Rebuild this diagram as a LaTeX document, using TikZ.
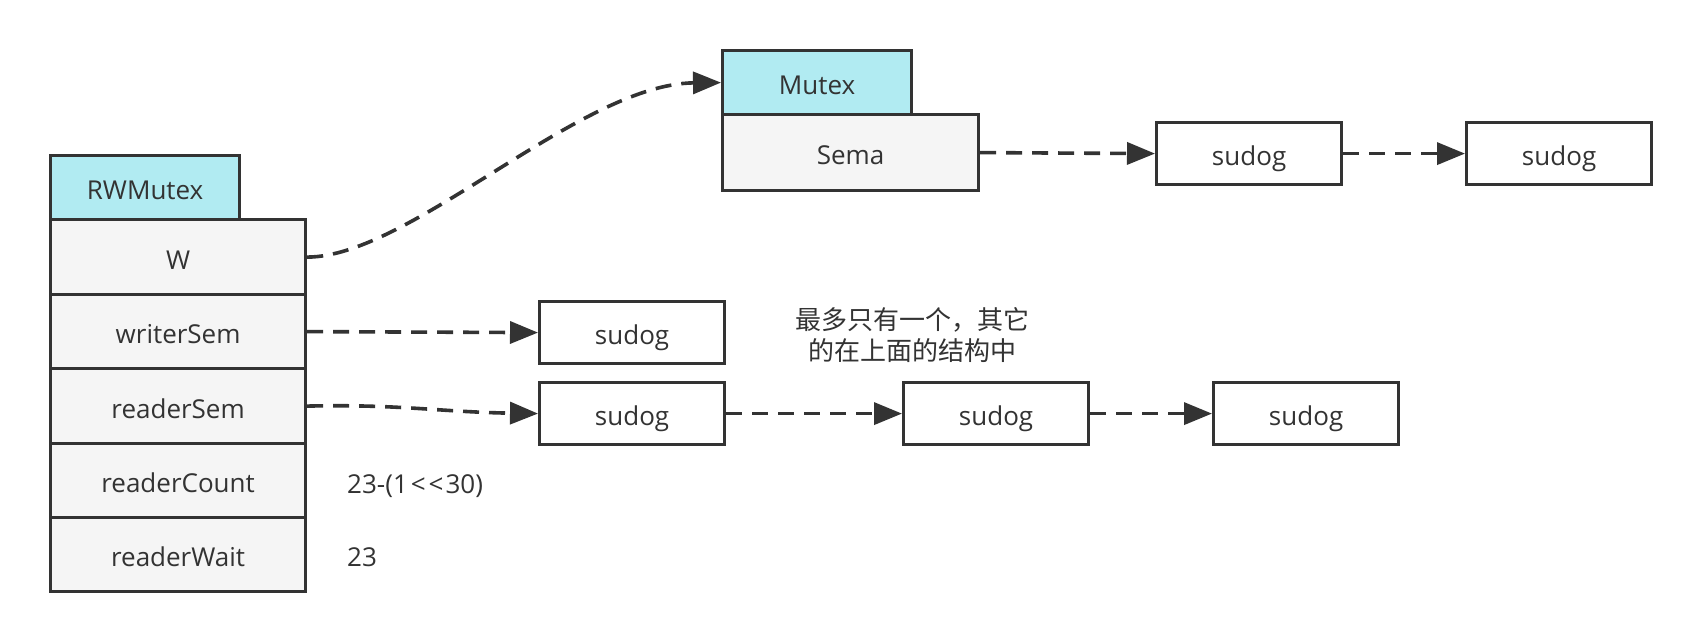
\documentclass[tikz,border=0pt]{standalone}
\usepackage{fontspec}
\setmainfont{Open Sans}
\newfontfamily\cjkfont{Noto Sans CJK SC}
\usetikzlibrary{arrows.meta}
\definecolor{ink}{HTML}{333333}
\definecolor{hdr}{HTML}{B1EBF2}
\definecolor{rowfill}{HTML}{F5F5F5}
\begin{document}
\begin{tikzpicture}[x=1pt,y=-1pt,
  base/.style={draw=ink, line width=3.2pt, text=ink, inner sep=0pt, anchor=north west,
    font=\fontsize{26}{30}\selectfont, text height=25pt, text depth=1pt},
  header/.style={base, fill=hdr, minimum width=189pt, minimum height=64pt},
  field/.style={base, fill=rowfill, minimum width=255pt},
  sudogbox/.style={base, fill=white, minimum width=185pt, minimum height=62pt},
  plain/.style={text=ink, inner sep=0pt, font=\fontsize{26}{30}\selectfont},
  conn/.style={draw=ink, line width=3.6pt, dash pattern=on 16pt off 10pt,
    -{Triangle[length=28pt,width=22pt]}}
]
\fill[white] (0,0) rectangle (1700,644);
\useasboundingbox (0,0) rectangle (1700,644);

% RWMutex structure
\node[header] (rw) at (49,154) {RWMutex};
\node[field, minimum height=75pt] (w) at (49,218) {W};
\node[field, minimum height=74pt] (ws) at (49,293) {writerSem};
\node[field, minimum height=75pt] (rs) at (49,367) {readerSem};
\node[field, minimum height=74pt] (rc) at (49,442) {readerCount};
\node[field, minimum height=74pt] (rwt) at (49,516) {readerWait};

% Mutex structure
\node[header] (mx) at (721,49) {Mutex};
\node[base, fill=rowfill, minimum width=256pt, minimum height=76pt] (sema) at (721,113) {Sema};

% sudog nodes
\node[sudogbox] (t1) at (1155,121) {sudog};
\node[sudogbox] (t2) at (1465,121) {sudog};
\node[sudogbox] (wsd) at (538,300) {sudog};
\node[sudogbox] (r1) at (538,381) {sudog};
\node[sudogbox] (r2) at (902,381) {sudog};
\node[sudogbox] (r3) at (1212,381) {sudog};

% labels
\node[plain, anchor=west] (lc) at (347,486) {23-(1\kern3pt<\kern3pt<\kern2pt30)};
\node[plain, anchor=west] (lw) at (347,557) {23};
\node[text=ink, inner sep=0pt, align=center, font=\cjkfont\fontsize{26}{31}\selectfont] (note) at (912,335)
  {最多只有一个，其它\\的在上面的结构中};

% connectors
\draw[conn] (w.east) .. controls (410,257) and (580,84) .. (mx.west);
\draw[conn] (sema.east) -- (t1.west);
\draw[conn] (t1.east) -- (t2.west);
\draw[conn] (ws.east) -- (wsd.west);
\draw[conn] (rs.east) .. controls (400,404) and (440,412) .. (r1.west);
\draw[conn] (r1.east) -- (r2.west);
\draw[conn] (r2.east) -- (r3.west);
\end{tikzpicture}
\end{document}
